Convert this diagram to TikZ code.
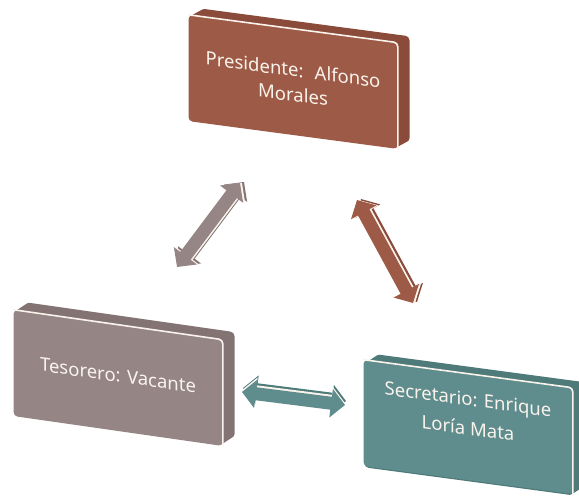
\documentclass[tikz,border=0pt]{standalone}
\usepackage{fontspec}
\setmainfont{Noto Sans}
\usetikzlibrary{arrows.meta}

\definecolor{presfront}{HTML}{9D5B47}
\definecolor{presside}{HTML}{8A4B3A}
\definecolor{tesfront}{HTML}{958685}
\definecolor{tesside}{HTML}{837473}
\definecolor{secfront}{HTML}{5F8D8D}
\definecolor{secside}{HTML}{4E7A7A}
\definecolor{cream}{HTML}{FAF3EC}

\begin{document}
\begin{tikzpicture}[x=1pt,y=1pt,semithick]

  \tikzstyle{every node}=[font=\fontsize{18.5}{25}\selectfont]
  \tikzstyle{plate}=[rectangle,rounded corners=4pt,minimum width=209pt,
                     minimum height=106pt,inner sep=0pt,align=center,text=cream]
  \tikzstyle{rim}=[draw=cream,line width=1.6pt,rounded corners=4pt]
  \tikzstyle{link}=[line width=13pt,
                    {Triangle[length=14pt,width=28pt]}-{Triangle[length=14pt,width=28pt]}]

  \useasboundingbox (0,0) rectangle (579,499);

  % back faces
  \foreach \k in {1,...,12} {
    \node[plate,fill=presside,yslant=-0.133] at (293+\k,417+0.55*\k) {};
    \node[plate,fill=tesside,yslant=-0.143]  at (118+\k,121+0.65*\k) {};
    \node[plate,fill=secside,yslant=-0.134]  at (468+\k,70+0.65*\k)  {};
  }

  % front faces
  \node[plate,fill=presfront,yslant=-0.133] (pres) at (293,417) {Presidente:~ Alfonso\\Morales};
  \node[plate,fill=tesfront,yslant=-0.143]  (tes)  at (118,121) {\raisebox{5pt}{Tesorero: Vacante}};
  \node[plate,fill=secfront,yslant=-0.134]  (sec)  at (468,72)  {Secretario: Enrique\\[4pt]Loría Mata\\[2pt]};

  \draw[rim] (pres.north west) -- (pres.north east) -- (pres.south east);
  \draw[rim] (tes.north west)  -- (tes.north east)  -- (tes.south east);
  \draw[rim] (sec.north west)  -- (sec.north east)  -- (sec.south east);

  % arrow ends
  \coordinate (tesA)  at (177,232);
  \coordinate (presA) at (240,316);
  \coordinate (presB) at (357,299);
  \coordinate (secA)  at (413,196);
  \coordinate (tesB)  at (242,107);
  \coordinate (secB)  at (345,94);

  \draw[link,draw=tesside,transform canvas={shift={(4pt,1pt)}}] (tesA) -- (presA);
  \draw[link,draw=cream,transform canvas={shift={(2pt,0pt)}}]   (tesA) -- (presA);
  \draw[link,draw=tesfront]                                     (tesA) -- (presA);

  \draw[link,draw=presside,transform canvas={shift={(4pt,1pt)}}] (presB) -- (secA);
  \draw[link,draw=cream,transform canvas={shift={(2pt,0pt)}}]    (presB) -- (secA);
  \draw[link,draw=presfront]                                     (presB) -- (secA);

  \draw[link,draw=secside,transform canvas={shift={(1pt,4pt)}}] (tesB) -- (secB);
  \draw[link,draw=cream,transform canvas={shift={(0pt,2pt)}}]   (tesB) -- (secB);
  \draw[link,draw=secfront]                                     (tesB) -- (secB);

\end{tikzpicture}
\end{document}
